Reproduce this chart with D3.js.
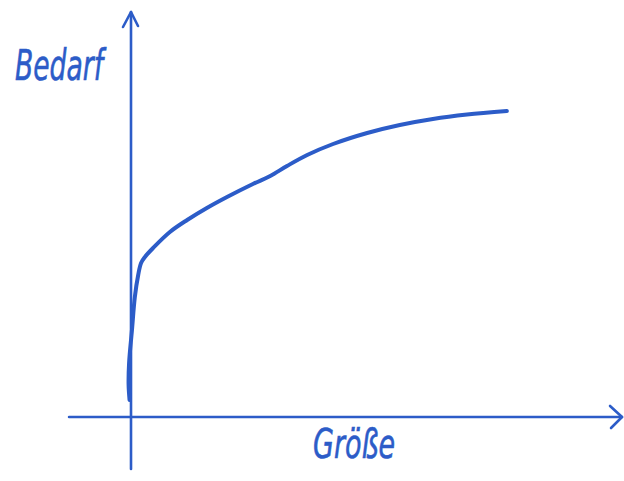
<!DOCTYPE html>
<html>
<head>
<meta charset="utf-8">
<script src="https://cdn.jsdelivr.net/npm/d3@7"></script>
<style>
  html, body { margin: 0; padding: 0; background: #fff; }
</style>
</head>
<body>
<div id="sketch"></div>
<script>
// hand-drawn curve, Größe (x) vs Bedarf (y)
const groesse = [-0.3, -0.5, -0.4, 0.2, 0.8, 1.5, 2.1, 2.9, 4.6, 8.1, 11.7, 15.8, 20, 25.4, 29, 32.5, 36.7, 42.1, 49.2, 56, 62.9, 70, 78.3];
const bedarf  = [4.25, 8, 13.5, 21.75, 30, 35.5, 38.5, 40, 42.25, 46.25, 49.25, 52.25, 55, 58.25, 60.25, 62.75, 65.5, 68.25, 71, 73, 74.5, 75.6, 76.5];
const xAxisExtent = [-12.9, 102.3];
const yAxisExtent = [-13, 101.25];
const xLabel = "Größe";
const yLabel = "Bedarf";

(() => {
  const width = 624, height = 481;
  const ink = "#2c5cc8";

  const svg = d3.select("#sketch")
    .append("svg")
    .attr("width", width)
    .attr("height", height);

  const x = d3.scaleLinear().domain([0, 100]).range([131, 611]);
  const y = d3.scaleLinear().domain([0, 100]).range([417, 17]);

  const g = svg.append("g")
    .attr("fill", "none")
    .attr("stroke", ink)
    .attr("stroke-linecap", "round")
    .attr("stroke-linejoin", "round");

  // y axis with arrow
  g.append("line")
    .attr("x1", x(0)).attr("x2", x(0))
    .attr("y1", y(yAxisExtent[0])).attr("y2", y(yAxisExtent[1]))
    .attr("stroke-width", 2.6);
  g.append("path")
    .attr("d", `M${x(0) - 8},${y(yAxisExtent[1]) + 15} L${x(0)},${y(yAxisExtent[1])} L${x(0) + 7},${y(yAxisExtent[1]) + 14}`)
    .attr("stroke-width", 2.6);

  // x axis with arrow
  g.append("line")
    .attr("x1", x(xAxisExtent[0])).attr("x2", x(xAxisExtent[1]))
    .attr("y1", y(0)).attr("y2", y(0))
    .attr("stroke-width", 2.6);
  g.append("path")
    .attr("d", `M${x(xAxisExtent[1]) - 12},${y(0) - 11} L${x(xAxisExtent[1])},${y(0)} L${x(xAxisExtent[1]) - 11},${y(0) + 11}`)
    .attr("stroke-width", 2.6);

  // the curve
  const pts = groesse.map((v, i) => [v, bedarf[i]]);
  const line = d3.line()
    .x(d => x(d[0]))
    .y(d => y(d[1]))
    .curve(d3.curveCatmullRom.alpha(0.5));
  g.append("path")
    .datum(pts)
    .attr("d", line)
    .attr("stroke-width", 4);

  // labels
  svg.append("text")
    .attr("x", 15).attr("y", 80)
    .attr("textLength", 88)
    .attr("lengthAdjust", "spacingAndGlyphs")
    .attr("font-family", "DejaVu Sans")
    .attr("font-style", "italic")
    .attr("font-size", 42)
    .attr("fill", ink)
    .attr("stroke", ink)
    .attr("stroke-width", 0.6)
    .text(yLabel);

  svg.append("text")
    .attr("x", 313).attr("y", 458)
    .attr("textLength", 82)
    .attr("lengthAdjust", "spacingAndGlyphs")
    .attr("font-family", "DejaVu Sans")
    .attr("font-style", "italic")
    .attr("font-size", 40)
    .attr("fill", ink)
    .attr("stroke", ink)
    .attr("stroke-width", 0.6)
    .text(xLabel);
})();
</script>
</body>
</html>
